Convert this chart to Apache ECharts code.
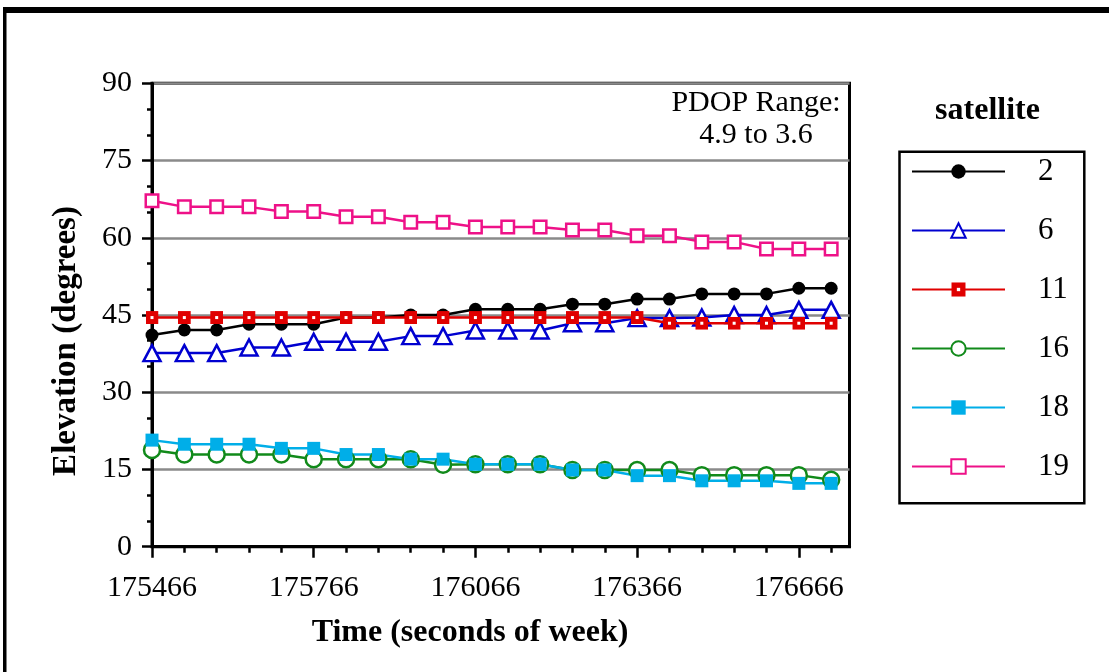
<!DOCTYPE html>
<html>
<head>
<meta charset="utf-8">
<script src="https://cdn.jsdelivr.net/npm/echarts@6/dist/echarts.min.js"></script>
<style>
  html, body { margin: 0; padding: 0; background: #fff; }
  #chart { width: 1109px; height: 672px; }
</style>
</head>
<body>
<div id="chart"></div>
<script>
// time of each sample (seconds of week)
const times = [175466, 175526, 175586, 175646, 175706, 175766, 175826, 175886, 175946, 176006, 176066,
  176126, 176186, 176246, 176306, 176366, 176426, 176486, 176546, 176606, 176666, 176726];
const timeLabels = [175466, 175766, 176066, 176366, 176666];

// elevation per satellite (degrees)
const sat2 = [41.1, 42.1, 42.1, 43.2, 43.2, 43.2, 44.5, 44.5, 45.0, 45.0, 46.1, 46.1, 46.1, 47.1, 47.1, 48.1, 48.1, 49.1, 49.1, 49.1, 50.2, 50.2];
const sat6 = [37.6, 37.6, 37.6, 38.7, 38.7, 39.8, 39.8, 39.8, 40.9, 40.9, 42.0, 42.0, 42.0, 43.4, 43.4, 44.4, 44.4, 44.5, 45.0, 45.0, 46.0, 46.0];
const sat11 = [44.5, 44.5, 44.5, 44.5, 44.5, 44.5, 44.5, 44.5, 44.5, 44.5, 44.5, 44.5, 44.5, 44.5, 44.5, 44.5, 43.4, 43.4, 43.4, 43.4, 43.4, 43.4];
const sat16 = [18.8, 17.9, 17.9, 17.9, 17.9, 17.0, 17.0, 17.0, 17.0, 15.9, 16.0, 16.0, 16.0, 14.9, 14.9, 14.9, 14.9, 13.9, 13.9, 13.9, 13.9, 13.0];
const sat18 = [20.7, 19.9, 19.9, 19.9, 19.1, 19.1, 17.9, 17.9, 17.0, 17.0, 16.0, 16.0, 16.0, 14.9, 14.9, 13.8, 13.8, 12.8, 12.8, 12.8, 12.3, 12.3];
const sat19 = [67.2, 66.0, 66.0, 66.0, 65.1, 65.1, 64.1, 64.1, 63.0, 63.0, 62.1, 62.1, 62.1, 61.5, 61.5, 60.4, 60.4, 59.2, 59.2, 57.8, 57.8, 57.8];

const FONT = 'Liberation Serif';

// red square with a small white centre
const redSquareSvg = "<svg xmlns='http://www.w3.org/2000/svg' width='26' height='26'>" +
  "<rect width='26' height='26' fill='#e00000'/><rect x='10' y='10' width='6' height='6' fill='#ffffff'/></svg>";
const redSquare = 'image://data:image/svg+xml;charset=utf-8,' + encodeURIComponent(redSquareSvg);

const pairs = (vals) => times.map((t, i) => [t, vals[i]]);

const makeSeries = (name, vals, color, symbol, size, filled, z) => ({
  name,
  type: 'line',
  data: pairs(vals),
  symbol,
  symbolSize: size,
  showAllSymbol: true,
  z: z || 2,
  lineStyle: { color, width: 2.5 },
  itemStyle: filled
    ? { color, borderColor: color, borderWidth: 0 }
    : { color: '#ffffff', borderColor: color, borderWidth: 2.5 },
});

const chart = echarts.init(document.getElementById('chart'));

const option = {
  animation: false,
  backgroundColor: '#ffffff',
  grid: {
    left: 152,
    right: 259.5,
    top: 83.3,
    bottom: 125.3,
    show: true,
    borderColor: '#000',
    borderWidth: 3,
    backgroundColor: 'transparent',
  },
  xAxis: [
    {
      type: 'value',
      min: 175466,
      max: 176760,
      position: 'bottom',
      axisLine: { lineStyle: { color: '#000', width: 3 } },
      axisTick: { customValues: times, length: 6, lineStyle: { color: '#000', width: 2.5 } },
      axisLabel: { show: false },
      splitLine: { show: false },
    },
    {
      type: 'value',
      min: 175466,
      max: 176760,
      position: 'bottom',
      axisLine: { show: false },
      axisTick: { customValues: timeLabels, length: 11, lineStyle: { color: '#000', width: 2.5 } },
      axisLabel: {
        customValues: timeLabels,
        formatter: (v) => String(v),
        margin: 26,
        color: '#000',
        fontFamily: FONT,
        fontSize: 30,
      },
      splitLine: { show: false },
    },
  ],
  yAxis: {
    type: 'value',
    min: 0,
    max: 90,
    interval: 15,
    axisLine: { show: true, lineStyle: { color: '#000', width: 3 } },
    axisTick: { show: true, length: 10, lineStyle: { color: '#000', width: 2.5 } },
    minorTick: { show: true, splitNumber: 3, length: 5, lineStyle: { color: '#000', width: 2.5 } },
    axisLabel: { margin: 20, color: '#000', fontFamily: FONT, fontSize: 30 },
    splitLine: { show: true, lineStyle: { color: '#8a8a8a', width: 2.5 } },
  },
  legend: {
    orient: 'vertical',
    left: 911,
    top: 156,
    padding: 0,
    itemWidth: 93,
    itemHeight: 18,
    itemGap: 28,
    textStyle: { color: '#000', fontFamily: FONT, fontSize: 31, padding: [24, 0, 0, 28] },
    data: ['2', '6', '11', '16', '18', '19'],
  },
  graphic: [
    { type: 'rect', left: 3, top: 7, shape: { width: 1106, height: 6 }, style: { fill: '#000' } },
    { type: 'rect', left: 3, top: 7, shape: { width: 3.5, height: 665 }, style: { fill: '#000' } },
    {
      type: 'rect',
      shape: { x: 899.5, y: 151.7, width: 184.8, height: 351.6 },
      style: { fill: 'none', stroke: '#000', lineWidth: 2.5 },
    },
    {
      type: 'text',
      x: 987.5, y: 111,
      style: { text: 'satellite', fill: '#000', font: 'bold 32px "Liberation Serif"', textAlign: 'center', textVerticalAlign: 'middle' },
    },
    {
      type: 'text',
      x: 756, y: 87,
      style: {
        text: 'PDOP Range:\n4.9 to 3.6',
        fill: '#000',
        font: '30px "Liberation Serif"',
        lineHeight: 32,
        textAlign: 'center',
        textVerticalAlign: 'top',
      },
    },
    {
      type: 'text',
      x: 470, y: 633,
      style: { text: 'Time (seconds of week)', fill: '#000', font: 'bold 32px "Liberation Serif"', textAlign: 'center', textVerticalAlign: 'middle' },
    },
    {
      type: 'text',
      x: 66, y: 341,
      rotation: Math.PI / 2,
      style: { text: 'Elevation (degrees)', fill: '#000', font: 'bold 33px "Liberation Serif"', textAlign: 'center', textVerticalAlign: 'middle' },
    },
  ],
  series: [
    makeSeries('2', sat2, '#000000', 'circle', 13, true),
    makeSeries('6', sat6, '#0000d0', 'triangle', [17, 16], false),
    makeSeries('11', sat11, '#e00000', redSquare, 13, true, 3),
    makeSeries('16', sat16, '#118a1a', 'circle', 16, false),
    makeSeries('18', sat18, '#00aee8', 'rect', 13, true),
    makeSeries('19', sat19, '#ee1188', 'rect', 12.5, false),
  ],
};

chart.setOption(option);
</script>
</body>
</html>
